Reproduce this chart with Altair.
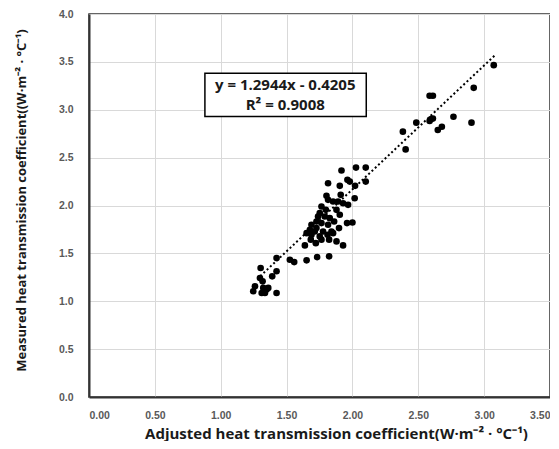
import altair as alt
import pandas as pd

# Scatter data (adjusted vs measured heat transmission coefficient)
adjusted = [
    1.917, 2.027, 2.101, 1.815, 1.904, 1.962, 1.980, 2.020, 2.101, 1.803,
    1.911, 2.017, 1.815, 1.853, 1.891, 1.929, 1.967, 1.765, 1.798, 1.879,
    1.904, 1.752, 1.739, 1.790, 1.828, 1.861, 1.959, 2.000, 1.727, 1.765,
    1.689, 1.815, 1.727, 1.898, 1.677, 1.714, 1.777, 1.841, 1.652, 1.689,
    1.752, 1.811, 1.853, 1.684, 1.765, 1.823, 1.722, 1.879, 1.929, 1.639,
    1.424, 1.525, 1.558, 1.652, 1.732, 1.823, 1.303, 1.424, 1.391, 1.298,
    1.318, 1.260, 1.247, 1.323, 1.348, 1.311, 1.424, 1.336, 1.361,
    3.073, 2.921, 2.586, 2.611, 2.383, 2.485, 2.586, 2.598, 2.611, 2.767,
    2.904, 2.648, 2.679, 2.404,
]
measured = [
    2.365, 2.396, 2.396, 2.232, 2.205, 2.268, 2.250, 2.205, 2.250, 2.101,
    2.111, 2.076, 2.059, 2.042, 2.042, 2.024, 2.007, 1.990, 1.955, 1.955,
    1.903, 1.920, 1.885, 1.885, 1.868, 1.833, 1.816, 1.823, 1.833, 1.816,
    1.799, 1.799, 1.764, 1.764, 1.747, 1.729, 1.729, 1.729, 1.711, 1.695,
    1.677, 1.695, 1.711, 1.643, 1.643, 1.643, 1.607, 1.625, 1.583, 1.583,
    1.451, 1.434, 1.409, 1.427, 1.461, 1.469, 1.347, 1.313, 1.260, 1.243,
    1.208, 1.156, 1.104, 1.139, 1.122, 1.086, 1.086, 1.086, 1.139,
    3.466, 3.229, 3.146, 3.146, 2.771, 2.865, 2.882, 2.903, 2.909, 2.927,
    2.865, 2.789, 2.823, 2.586,
]

# Trendline as reported on the chart
slope = 1.2944
intercept = -0.4205
trend_x = [1.30, 3.09]

eq_lines = ["y = 1.2944x - 0.4205", "R\u00b2 = 0.9008"]

x_ticks = [0, 0.5, 1.0, 1.5, 2.0, 2.5, 3.0, 3.5]
y_ticks = [0, 0.5, 1.0, 1.5, 2.0, 2.5, 3.0, 3.5, 4.0]

pts = pd.DataFrame({"x": adjusted, "y": measured})
trend = pd.DataFrame({"x": trend_x})

W, H = 461, 383
LFONT = "Liberation Sans"
TFONT = "Open Sans"

xscale = alt.Scale(domain=[0, 3.5], nice=False, zero=True)
yscale = alt.Scale(domain=[0, 4.0], nice=False, zero=True)

x_axis = alt.Axis(
    values=x_ticks, format=".2f", grid=True, ticks=False,
    title="Adjusted heat transmission coefficient(W\u00b7m\u207b\u00b2 \u00b7 \u00b0C\u207b\u00b9)",
    titleX=247, titleY=36, titleBaseline="middle", titleFontSize=15,
    labelPadding=13, labelBaseline="top",
)
y_axis = alt.Axis(
    values=y_ticks, format=".1f", grid=True, ticks=False,
    title="Measured heat transmission coefficient((W\u00b7m\u207b\u00b2 \u00b7 \u00b0C\u207b\u00b9)",
    titleX=-68, titleY=186, titleBaseline="middle", titleAngle=270,
    titleFontSize=13, labelPadding=16,
)

points = alt.Chart(pts).mark_circle(size=44, color="black", opacity=1).encode(
    x=alt.X("x:Q", scale=xscale, axis=x_axis),
    y=alt.Y("y:Q", scale=yscale, axis=y_axis),
)

line = alt.Chart(trend).transform_calculate(
    y=f"{slope} * datum.x + ({intercept})"
).mark_line(color="black", strokeDash=[2, 2.5], strokeWidth=2).encode(
    x=alt.X("x:Q", scale=xscale),
    y=alt.Y("y:Q", scale=yscale),
)

box = alt.Chart(pd.DataFrame({"a": [0]})).mark_rect(
    fill="white", stroke="black", strokeWidth=1.5
).encode(
    x=alt.datum(0.88), x2=alt.datum(2.105),
    y=alt.datum(3.38), y2=alt.datum(2.93),
)

txt1 = alt.Chart(pd.DataFrame({"t": [eq_lines[0]]})).mark_text(
    font=TFONT, fontSize=15, fontWeight="bold", color="#1a1a1a", baseline="middle"
).encode(x=alt.datum(1.49), y=alt.datum(3.255), text="t:N")

txt2 = alt.Chart(pd.DataFrame({"t": [eq_lines[1]]})).mark_text(
    font=TFONT, fontSize=15, fontWeight="bold", color="#1a1a1a", baseline="middle"
).encode(x=alt.datum(1.49), y=alt.datum(3.045), text="t:N")

chart = alt.layer(line, points, box, txt1, txt2).properties(
    width=W, height=H,
    autosize=alt.AutoSizeParams(type="none"),
    padding={"left": 81, "top": 6, "right": 0, "bottom": 44},
).configure_view(
    stroke="#333333", strokeWidth=1.5
).configure_axis(
    gridColor="#d9d9d9", gridWidth=1,
    domainColor="#333333", domainWidth=2,
    labelFont=LFONT, labelFontSize=10.5, labelFontWeight="bold", labelColor="#595959",
    titleFont=TFONT, titleFontWeight="bold", titleColor="#1a1a1a",
)

chart.save("out.html", embed_options={"renderer": "svg", "actions": False})
